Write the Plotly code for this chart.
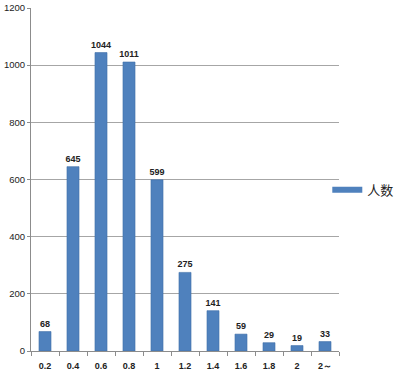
import plotly.graph_objects as go

categories = ["0.2", "0.4", "0.6", "0.8", "1", "1.2", "1.4", "1.6", "1.8", "2", "2～"]
counts = [68, 645, 1044, 1011, 599, 275, 141, 59, 29, 19, 33]
series_name = "人数"
y_ticks = [0, 200, 400, 600, 800, 1000, 1200]

bar_color = "#4F81BD"

fig = go.Figure()
fig.add_trace(go.Bar(
    x=categories, y=counts, name=series_name,
    marker=dict(color=bar_color, line=dict(color="#3F6FA8", width=0.6)),
    width=0.43,
    text=[str(v) for v in counts], textposition="outside",
    texttemplate="<b>%{text}</b>", constraintext="none", textangle=0,
    textfont=dict(family="Liberation Sans, Arial", size=9, color="#222"),
    cliponaxis=False, showlegend=False,
))
# legend entry drawn as a thick line, like the reference legend key
fig.add_trace(go.Scatter(
    x=[None], y=[None], mode="lines", name=series_name,
    line=dict(color=bar_color, width=6), showlegend=True,
))

fig.update_layout(
    width=400, height=384,
    margin=dict(l=31, r=61, t=8, b=33, autoexpand=False),
    plot_bgcolor="white", paper_bgcolor="white",
    font=dict(family="Liberation Sans, Arial", size=9, color="#222"),
    legend=dict(x=0.962, xanchor="left", y=0.47, yanchor="middle",
                font=dict(family="Noto Sans CJK SC", size=13, color="#222"),
                itemwidth=30, tracegroupgap=0, bgcolor="rgba(0,0,0,0)"),
    xaxis=dict(
        type="category", showline=True, linecolor="#8c8c8c", linewidth=1,
        ticks="outside", ticklen=4, tickcolor="#8c8c8c",
        tickson="boundaries", showgrid=False, automargin=False,
        tickprefix="<b>", ticksuffix="</b>", ticklabelstandoff=6,
        tickfont=dict(family="Liberation Sans, Arial", size=9, color="#222"),
    ),
    yaxis=dict(
        range=[0, 1200], tickvals=y_ticks, showline=True, linecolor="#8c8c8c",
        linewidth=1, gridcolor="#a6a6a6", gridwidth=1, zeroline=False,
        ticks="outside", ticklen=3, tickcolor="#8c8c8c", automargin=False,
        tickprefix="<b>", ticksuffix="</b>",
        tickfont=dict(family="Liberation Sans, Arial", size=9.5, color="#222"),
    ),
)

fig.write_html("out.html", config={"displayModeBar": False},
               post_script="document.body.style.margin='0';")
